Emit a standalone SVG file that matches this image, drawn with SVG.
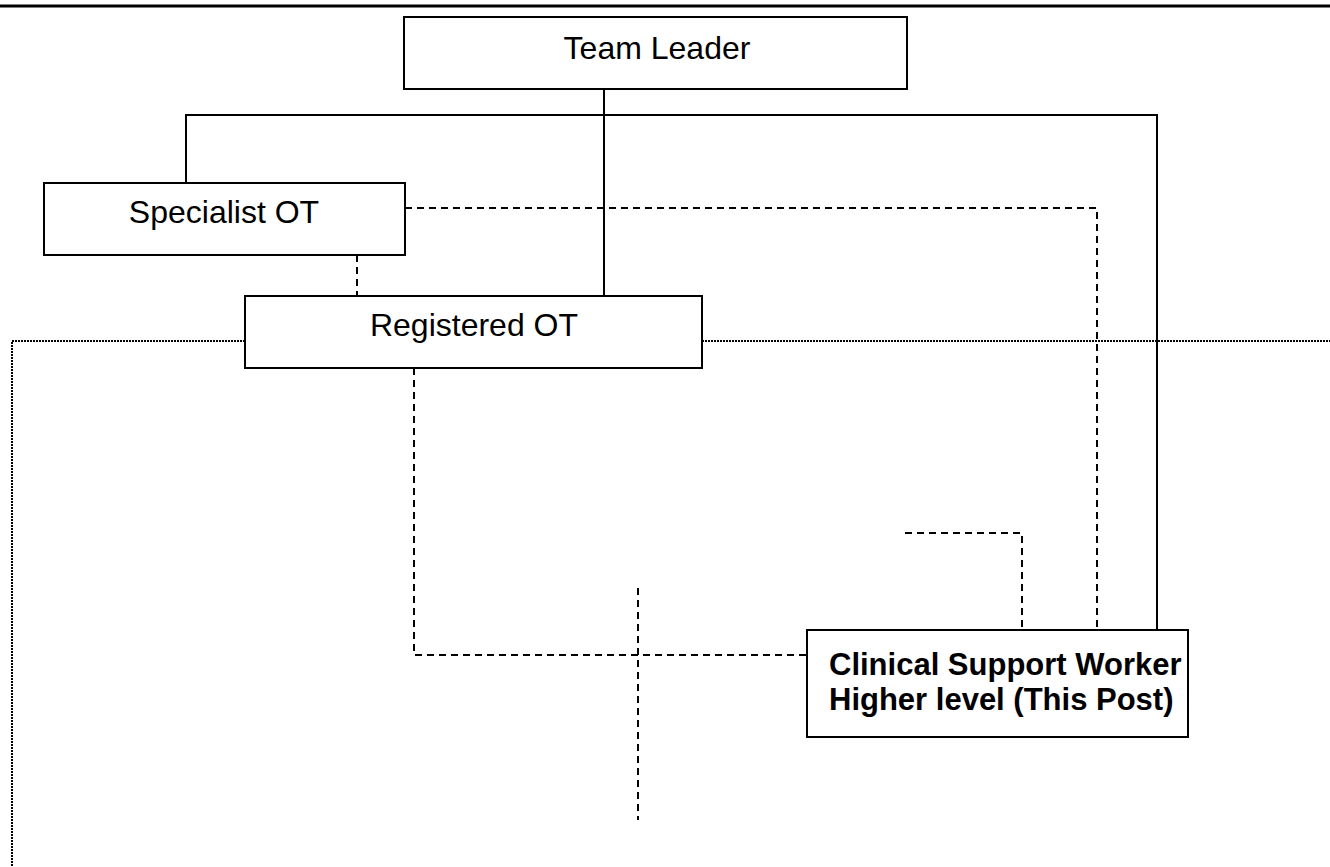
<svg xmlns="http://www.w3.org/2000/svg" width="1330" height="867" viewBox="0 0 1330 867">
<style>
.box{fill:#fff;stroke:#000;stroke-width:2}
.t{font-family:"Liberation Sans",Arial,sans-serif;font-size:32px;fill:#000}
.b{font-weight:bold;font-size:31px}
.solid{stroke:#000;stroke-width:2;fill:none}
.dash{stroke:#000;stroke-width:2;fill:none;stroke-dasharray:7 5}
.dot{stroke:#000;stroke-width:2;fill:none;stroke-dasharray:2 1}
</style>
<rect width="1330" height="867" fill="#fff"/>
<line x1="0" y1="6" x2="1330" y2="6" stroke="#000" stroke-width="3"/>
<g id="connectors">
<path class="dot" d="M245,341 H12 V867"/>
<path class="dot" d="M702,341 H1330"/>
<path class="solid" d="M604,89 V296"/>
<path class="solid" d="M186,183 V115 H1157 V630"/>
<path class="dash" d="M405,208 H1097 V630"/>
<path class="dash" d="M357,255 V296"/>
<path class="dash" d="M414,368 V655 H807"/>
<path class="dash" d="M638,588 V820"/>
<path class="dash" d="M905,533 H1022 V630"/>
</g>
<g id="team-leader">
<rect class="box" x="404" y="17" width="503" height="72"/>
<text class="t" x="657" y="59" text-anchor="middle">Team Leader</text>
</g>
<g id="specialist-ot">
<rect class="box" x="44" y="183" width="361" height="72"/>
<text class="t" x="224" y="223" text-anchor="middle">Specialist OT</text>
</g>
<g id="registered-ot">
<rect class="box" x="245" y="296" width="457" height="72"/>
<text class="t" x="474" y="336" text-anchor="middle">Registered OT</text>
</g>
<g id="csw">
<rect class="box" x="807" y="630" width="381" height="107"/>
<text class="t b" x="829" y="675">Clinical Support Worker</text>
<text class="t b" x="829" y="710">Higher level (This Post)</text>
</g>
</svg>
